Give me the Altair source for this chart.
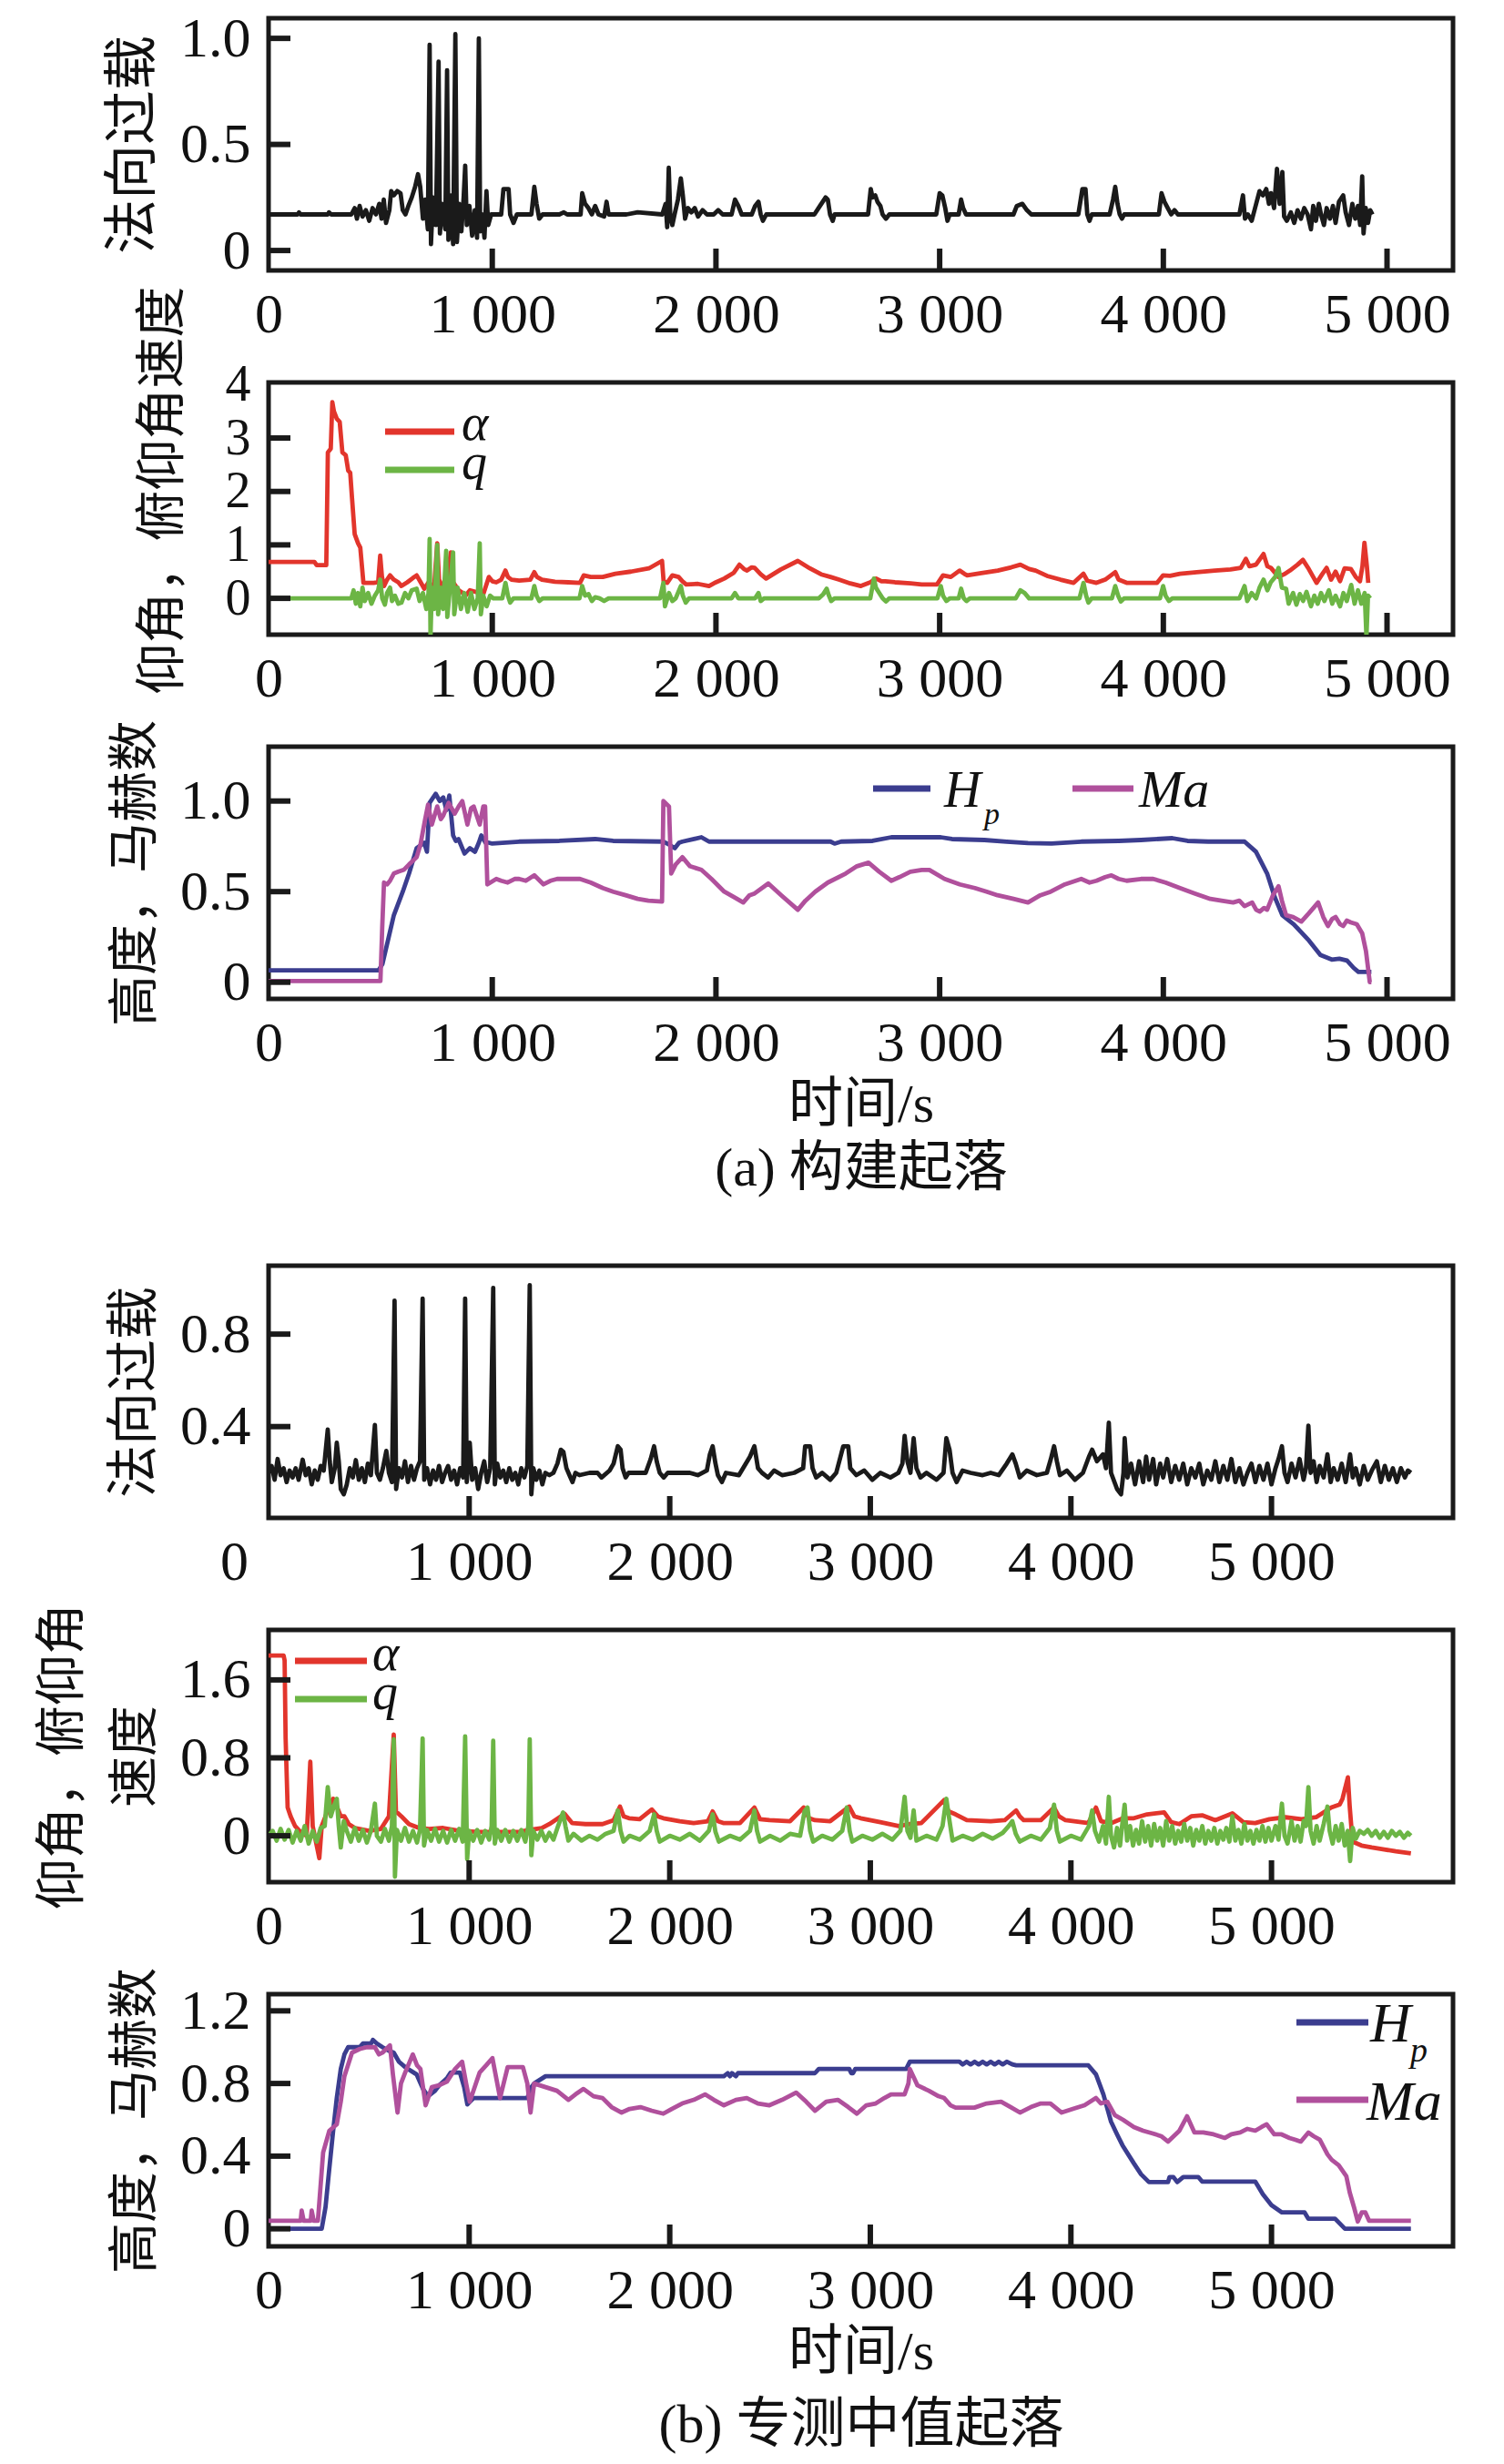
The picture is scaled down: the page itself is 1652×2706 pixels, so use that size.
import altair as alt
import pandas as pd

# ---------------- data (time s, value) ----------------
A1_N = [(0,0.17),(130,0.17),(136,0.18),(142,0.17),(265,0.17),(270,0.18),(280,0.17),(370,0.17),(385,0.20),(395,0.15),(407,0.21),(420,0.16),(435,0.19),(450,0.14),(465,0.20),(480,0.17),(495,0.22),(505,0.15),(515,0.24),(525,0.13),(540,0.19),(548,0.28),(560,0.26),(575,0.28),(590,0.27),(600,0.19),(612,0.17),(625,0.21),(640,0.25),(655,0.30),(668,0.36),(678,0.30),(690,0.15),(700,0.24),(712,0.10),(720,0.97),(726,0.03),(735,0.25),(748,0.12),(760,0.89),(766,0.08),(775,0.22),(790,0.10),(798,0.85),(804,0.05),(815,0.26),(825,0.03),(835,1.02),(842,0.04),(852,0.22),(862,0.09),(872,0.25),(879,0.40),(886,0.12),(898,0.21),(910,0.07),(922,0.19),(932,0.06),(940,1.0),(946,0.09),(955,0.17),(965,0.06),(974,0.28),(982,0.12),(995,0.17),(1040,0.17),(1050,0.29),(1073,0.29),(1080,0.17),(1095,0.13),(1110,0.17),(1175,0.17),(1188,0.30),(1198,0.22),(1210,0.15),(1225,0.17),(1300,0.17),(1320,0.18),(1335,0.17),(1395,0.17),(1402,0.27),(1415,0.22),(1430,0.20),(1445,0.17),(1460,0.21),(1475,0.17),(1500,0.16),(1511,0.23),(1520,0.17),(1560,0.17),(1600,0.17),(1650,0.18),(1760,0.17),(1775,0.22),(1782,0.11),(1789,0.39),(1796,0.16),(1805,0.12),(1815,0.17),(1830,0.24),(1843,0.34),(1852,0.26),(1862,0.15),(1875,0.20),(1890,0.18),(1905,0.20),(1920,0.16),(1940,0.19),(1960,0.17),(1990,0.17),(2010,0.19),(2030,0.17),(2070,0.17),(2085,0.24),(2100,0.21),(2115,0.17),(2160,0.17),(2175,0.21),(2190,0.23),(2200,0.17),(2210,0.14),(2225,0.17),(2440,0.17),(2465,0.21),(2490,0.25),(2500,0.24),(2510,0.17),(2522,0.14),(2530,0.17),(2680,0.17),(2692,0.29),(2700,0.25),(2712,0.26),(2722,0.23),(2735,0.21),(2745,0.17),(2760,0.15),(2775,0.17),(2985,0.17),(3000,0.27),(3012,0.26),(3025,0.20),(3035,0.14),(3045,0.17),(3085,0.17),(3096,0.24),(3105,0.20),(3118,0.17),(3330,0.17),(3345,0.21),(3370,0.22),(3390,0.19),(3410,0.17),(3620,0.17),(3638,0.29),(3652,0.29),(3660,0.17),(3670,0.14),(3680,0.17),(3760,0.17),(3775,0.24),(3785,0.30),(3795,0.22),(3805,0.17),(3815,0.15),(3825,0.17),(3980,0.17),(3992,0.27),(4005,0.23),(4020,0.20),(4035,0.17),(4050,0.19),(4065,0.17),(4340,0.17),(4356,0.26),(4365,0.15),(4378,0.17),(4395,0.14),(4410,0.20),(4430,0.28),(4445,0.26),(4460,0.29),(4472,0.22),(4481,0.27),(4495,0.20),(4508,0.385),(4520,0.22),(4532,0.37),(4540,0.16),(4552,0.14),(4570,0.18),(4585,0.13),(4600,0.19),(4615,0.15),(4630,0.20),(4645,0.17),(4660,0.10),(4670,0.21),(4682,0.14),(4695,0.22),(4705,0.17),(4718,0.12),(4730,0.20),(4745,0.15),(4758,0.21),(4770,0.13),(4785,0.23),(4804,0.26),(4815,0.18),(4830,0.12),(4845,0.22),(4858,0.15),(4870,0.21),(4880,0.12),(4889,0.35),(4895,0.08),(4905,0.20),(4915,0.13),(4925,0.19),(4935,0.17)]

A2_ALPHA = [(0,0.68),(205,0.68),(215,0.62),(258,0.62),(265,2.73),(278,2.8),(285,3.67),(292,3.5),(305,3.36),(318,3.3),(330,2.73),(345,2.68),(356,2.39),(365,2.35),(373,1.88),(385,1.2),(400,1.03),(410,0.95),(424,0.29),(470,0.29),(490,0.3),(499,0.8),(507,0.4),(516,0.23),(530,0.35),(543,0.43),(560,0.35),(580,0.3),(594,0.23),(620,0.3),(645,0.38),(662,0.43),(680,0.3),(696,0.18),(715,0.3),(740,0.2),(754,1.03),(762,0.35),(781,0.18),(800,0.4),(815,0.86),(825,0.3),(850,0.15),(883,0.06),(900,0.15),(960,0.08),(985,0.4),(1000,0.32),(1018,0.3),(1040,0.35),(1059,0.52),(1070,0.4),(1086,0.35),(1120,0.33),(1170,0.35),(1188,0.49),(1200,0.4),(1222,0.35),(1280,0.31),(1340,0.30),(1392,0.29),(1409,0.43),(1440,0.40),(1494,0.40),(1550,0.46),(1620,0.50),(1700,0.56),(1759,0.70),(1766,0.32),(1782,0.29),(1805,0.43),(1833,0.40),(1850,0.32),(1867,0.26),(1920,0.27),(1969,0.23),(2000,0.3),(2037,0.37),(2080,0.48),(2105,0.63),(2125,0.55),(2139,0.52),(2160,0.58),(2173,0.57),(2200,0.45),(2224,0.37),(2290,0.54),(2366,0.70),(2420,0.56),(2470,0.45),(2512,0.40),(2550,0.35),(2600,0.28),(2648,0.23),(2690,0.30),(2716,0.37),(2740,0.32),(2757,0.32),(2800,0.30),(2870,0.28),(2920,0.26),(2988,0.26),(3015,0.43),(3050,0.40),(3089,0.52),(3110,0.46),(3123,0.43),(3180,0.47),(3260,0.52),(3320,0.58),(3361,0.63),(3400,0.55),(3429,0.52),(3480,0.42),(3540,0.35),(3599,0.29),(3643,0.46),(3660,0.33),(3701,0.29),(3740,0.35),(3785,0.49),(3800,0.35),(3836,0.29),(3900,0.29),(3972,0.29),(3999,0.43),(4030,0.42),(4074,0.46),(4150,0.49),(4230,0.52),(4300,0.54),(4346,0.57),(4369,0.74),(4385,0.6),(4414,0.63),(4448,0.83),(4465,0.6),(4481,0.57),(4515,0.40),(4540,0.45),(4566,0.52),(4600,0.63),(4624,0.72),(4650,0.55),(4685,0.29),(4710,0.45),(4730,0.57),(4750,0.35),(4770,0.50),(4790,0.32),(4810,0.56),(4838,0.55),(4860,0.40),(4879,0.32),(4890,0.6),(4899,1.04),(4910,0.6),(4916,0.29)]

A2_Q = [(0,0),(370,0),(380,0.15),(390,-0.1),(400,0.1),(410,-0.15),(420,0.2),(430,-0.05),(445,0.1),(460,-0.1),(475,0.05),(490,0.15),(499,0.35),(508,0.0),(520,-0.12),(530,0.1),(543,0.2),(552,-0.05),(565,0.05),(580,-0.1),(594,-0.08),(610,0.1),(625,0.0),(640,0.15),(662,0.18),(675,-0.05),(690,0.1),(705,-0.2),(715,0.1),(720,1.11),(724,-0.72),(730,0.2),(740,-0.2),(754,1.0),(758,-0.3),(770,0.2),(780,-0.2),(794,0.89),(799,-0.35),(810,0.15),(825,0.86),(830,-0.3),(845,0.2),(860,-0.2),(875,0.1),(890,-0.25),(905,0.1),(920,-0.2),(935,0.0),(944,1.03),(949,-0.3),(960,0.05),(975,-0.15),(990,0.05),(1005,0.0),(1045,0.0),(1059,0.29),(1070,0.05),(1080,-0.08),(1095,0.0),(1175,0.0),(1188,0.23),(1198,0.05),(1210,-0.05),(1225,0.0),(1390,0.0),(1402,0.23),(1415,0.05),(1430,0.08),(1445,-0.05),(1460,0.02),(1480,0.0),(1500,-0.05),(1520,0.0),(1750,0.0),(1765,0.29),(1772,-0.15),(1790,0.1),(1805,-0.05),(1820,0.0),(1843,0.23),(1852,0.05),(1865,-0.08),(1880,0.0),(2070,0.0),(2085,0.1),(2100,0.0),(2175,0.0),(2190,0.1),(2200,-0.05),(2215,0.0),(2460,0.0),(2480,0.08),(2495,0.18),(2505,0.05),(2515,-0.05),(2530,0.0),(2690,0.0),(2706,0.37),(2715,0.2),(2730,0.1),(2745,0.0),(2760,-0.06),(2775,0.0),(2990,0.0),(3005,0.23),(3015,0.05),(3030,-0.05),(3045,0.0),(3085,0.0),(3096,0.18),(3108,0.0),(3120,-0.05),(3135,0.0),(3340,0.0),(3361,0.15),(3380,0.1),(3400,0.0),(3625,0.0),(3643,0.29),(3655,0.05),(3665,-0.08),(3680,0.0),(3770,0.0),(3785,0.23),(3798,0.05),(3810,-0.06),(3825,0.0),(3985,0.0),(3999,0.23),(4010,0.05),(4025,-0.05),(4040,0.0),(4340,0.0),(4363,0.23),(4375,-0.05),(4395,0.1),(4415,0.0),(4430,0.2),(4448,0.35),(4465,0.15),(4480,0.3),(4500,0.4),(4515,0.57),(4530,0.2),(4549,0.18),(4560,-0.1),(4580,0.1),(4595,-0.12),(4610,0.08),(4625,-0.05),(4640,0.12),(4660,-0.15),(4675,0.05),(4690,-0.1),(4705,0.1),(4720,-0.05),(4740,0.15),(4755,-0.1),(4770,0.05),(4790,-0.15),(4805,0.1),(4820,-0.05),(4840,0.25),(4855,-0.1),(4870,0.15),(4885,-0.1),(4900,0.1),(4908,-0.72),(4915,0.05),(4925,0.0)]

A3_HP = [(0,0.066),(492,0.066),(509,0.10),(560,0.37),(600,0.50),(628,0.60),(662,0.74),(696,0.77),(708,0.72),(720,0.99),(747,1.04),(765,1.0),(781,1.02),(795,0.95),(808,1.03),(825,0.81),(837,0.78),(849,0.79),(876,0.71),(900,0.74),(923,0.72),(940,0.77),(951,0.81),(970,0.77),(985,0.77),(1000,0.765),(1120,0.776),(1300,0.78),(1460,0.79),(1540,0.78),(1765,0.776),(1790,0.76),(1816,0.74),(1835,0.77),(1850,0.776),(1935,0.80),(1969,0.776),(2300,0.776),(2512,0.776),(2530,0.765),(2560,0.776),(2700,0.78),(2784,0.80),(2900,0.80),(3005,0.80),(3055,0.79),(3200,0.785),(3300,0.776),(3395,0.768),(3500,0.765),(3633,0.776),(3800,0.78),(3900,0.785),(4040,0.795),(4108,0.78),(4200,0.776),(4363,0.776),(4414,0.72),(4464,0.60),(4498,0.47),(4532,0.37),(4583,0.32),(4651,0.23),(4702,0.15),(4753,0.125),(4787,0.13),(4821,0.12),(4850,0.08),(4872,0.057),(4930,0.057)]

A3_MA = [(0,0.007),(500,0.007),(508,0.3),(516,0.55),(530,0.54),(543,0.56),(560,0.60),(580,0.61),(604,0.62),(628,0.65),(662,0.69),(679,0.76),(700,0.90),(713,0.98),(730,0.87),(754,0.97),(770,0.90),(781,0.92),(805,0.99),(832,0.93),(850,0.97),(866,1.0),(889,0.87),(905,0.96),(917,0.97),(944,0.87),(960,0.97),(968,0.97),(978,0.54),(1018,0.57),(1040,0.56),(1069,0.55),(1100,0.57),(1120,0.57),(1150,0.56),(1188,0.59),(1229,0.54),(1260,0.56),(1290,0.57),(1350,0.57),(1392,0.57),(1440,0.55),(1494,0.52),(1540,0.50),(1596,0.48),(1650,0.46),(1698,0.45),(1759,0.445),(1765,1.0),(1790,0.97),(1800,0.6),(1820,0.65),(1850,0.69),(1884,0.64),(1935,0.62),(1980,0.57),(2037,0.50),(2080,0.47),(2122,0.44),(2150,0.48),(2173,0.49),(2234,0.545),(2292,0.48),(2366,0.40),(2400,0.45),(2444,0.50),(2500,0.55),(2580,0.60),(2630,0.64),(2682,0.66),(2730,0.61),(2784,0.56),(2820,0.58),(2869,0.61),(2920,0.62),(2954,0.62),(3022,0.57),(3090,0.54),(3157,0.52),(3210,0.50),(3259,0.48),(3330,0.46),(3395,0.44),(3450,0.48),(3497,0.50),(3560,0.54),(3633,0.57),(3670,0.55),(3701,0.56),(3740,0.58),(3768,0.59),(3800,0.57),(3836,0.56),(3900,0.57),(3955,0.57),(4010,0.55),(4074,0.52),(4140,0.49),(4210,0.46),(4260,0.45),(4312,0.44),(4340,0.45),(4363,0.42),(4380,0.43),(4397,0.44),(4415,0.40),(4431,0.39),(4450,0.41),(4464,0.40),(4490,0.48),(4515,0.53),(4530,0.45),(4549,0.37),(4580,0.36),(4617,0.335),(4650,0.38),(4692,0.44),(4715,0.36),(4736,0.31),(4755,0.35),(4770,0.36),(4790,0.32),(4804,0.31),(4820,0.34),(4838,0.33),(4865,0.32),(4889,0.27),(4906,0.17),(4923,0.0),(4930,0.0)]

B1_N = [(0,0.2),(15,0.23),(30,0.17),(45,0.26),(60,0.19),(75,0.22),(90,0.16),(105,0.21),(120,0.18),(135,0.22),(150,0.17),(170,0.257),(185,0.19),(200,0.22),(215,0.15),(230,0.21),(245,0.17),(260,0.23),(275,0.21),(295,0.387),(305,0.25),(315,0.16),(330,0.22),(340,0.33),(350,0.25),(360,0.13),(375,0.107),(390,0.15),(405,0.22),(420,0.18),(435,0.255),(450,0.17),(465,0.22),(480,0.16),(495,0.24),(510,0.19),(530,0.407),(540,0.2),(555,0.17),(570,0.22),(587,0.295),(600,0.2),(615,0.16),(628,0.945),(636,0.13),(650,0.22),(665,0.18),(680,0.25),(695,0.16),(710,0.23),(725,0.17),(740,0.22),(755,0.25),(768,0.954),(776,0.17),(790,0.22),(805,0.15),(820,0.21),(835,0.17),(850,0.23),(865,0.16),(880,0.2),(895,0.23),(910,0.17),(925,0.21),(940,0.15),(955,0.22),(970,0.18),(980,0.954),(988,0.16),(1003,0.33),(1015,0.17),(1030,0.22),(1045,0.13),(1060,0.2),(1075,0.25),(1090,0.16),(1105,0.22),(1120,1.0),(1128,0.15),(1140,0.24),(1155,0.18),(1170,0.21),(1185,0.16),(1200,0.22),(1215,0.17),(1230,0.2),(1245,0.15),(1260,0.22),(1275,0.18),(1290,0.23),(1302,1.012),(1310,0.107),(1320,0.22),(1335,0.17),(1350,0.21),(1365,0.15),(1380,0.2),(1400,0.19),(1420,0.2),(1440,0.24),(1457,0.30),(1470,0.29),(1485,0.22),(1500,0.19),(1515,0.16),(1530,0.2),(1550,0.19),(1600,0.2),(1640,0.2),(1660,0.18),(1700,0.21),(1720,0.24),(1741,0.315),(1755,0.3),(1765,0.22),(1780,0.18),(1795,0.2),(1880,0.2),(1905,0.26),(1922,0.315),(1935,0.25),(1950,0.2),(1970,0.18),(1990,0.2),(2100,0.2),(2140,0.19),(2185,0.21),(2200,0.28),(2214,0.315),(2228,0.24),(2240,0.19),(2260,0.16),(2280,0.2),(2345,0.19),(2400,0.27),(2422,0.315),(2440,0.22),(2460,0.2),(2490,0.18),(2520,0.21),(2560,0.19),(2620,0.2),(2665,0.22),(2675,0.315),(2700,0.315),(2712,0.22),(2730,0.18),(2760,0.2),(2800,0.17),(2830,0.2),(2865,0.315),(2890,0.315),(2900,0.22),(2930,0.19),(2970,0.21),(3010,0.17),(3050,0.2),(3100,0.18),(3140,0.2),(3160,0.24),(3171,0.36),(3185,0.25),(3200,0.2),(3216,0.35),(3230,0.22),(3250,0.18),(3280,0.2),(3330,0.17),(3365,0.2),(3379,0.35),(3395,0.3),(3410,0.2),(3430,0.16),(3460,0.21),(3500,0.2),(3560,0.19),(3600,0.2),(3640,0.19),(3680,0.24),(3708,0.28),(3725,0.24),(3745,0.18),(3780,0.21),(3830,0.19),(3880,0.2),(3900,0.26),(3916,0.315),(3930,0.25),(3945,0.19),(3980,0.21),(4020,0.17),(4060,0.2),(4090,0.27),(4106,0.3),(4130,0.25),(4160,0.28),(4175,0.22),(4189,0.417),(4200,0.2),(4230,0.13),(4250,0.107),(4262,0.2),(4268,0.35),(4282,0.18),(4300,0.24),(4320,0.15),(4340,0.25),(4360,0.16),(4375,0.27),(4390,0.17),(4410,0.26),(4425,0.15),(4445,0.24),(4460,0.18),(4480,0.26),(4500,0.16),(4520,0.23),(4540,0.17),(4560,0.24),(4580,0.15),(4600,0.22),(4620,0.18),(4640,0.24),(4660,0.15),(4680,0.21),(4700,0.17),(4720,0.25),(4740,0.16),(4760,0.23),(4780,0.17),(4800,0.26),(4820,0.16),(4840,0.22),(4860,0.15),(4880,0.2),(4900,0.24),(4920,0.16),(4940,0.23),(4960,0.17),(4980,0.24),(5000,0.15),(5020,0.22),(5035,0.26),(5052,0.315),(5065,0.2),(5080,0.16),(5100,0.24),(5120,0.18),(5140,0.26),(5160,0.17),(5172,0.22),(5184,0.404),(5195,0.2),(5210,0.25),(5225,0.16),(5240,0.23),(5260,0.18),(5279,0.28),(5295,0.16),(5310,0.22),(5330,0.17),(5350,0.24),(5370,0.16),(5392,0.28),(5405,0.18),(5420,0.22),(5440,0.15),(5460,0.23),(5480,0.17),(5500,0.21),(5525,0.25),(5545,0.16),(5565,0.23),(5585,0.17),(5605,0.22),(5625,0.16),(5645,0.22),(5665,0.18),(5680,0.21),(5695,0.2)]

B2_ALPHA = [(0,1.85),(75,1.85),(80,1.8),(85,1.0),(95,0.29),(110,0.2),(132,0.1),(150,0.06),(170,0.02),(190,0.0),(208,0.76),(220,0.1),(235,-0.05),(253,-0.23),(265,0.1),(284,0.2),(300,0.3),(322,0.38),(340,0.3),(360,0.2),(378,0.2),(400,0.12),(430,0.08),(454,0.07),(500,0.05),(560,0.07),(600,0.2),(624,1.04),(635,0.25),(662,0.2),(700,0.12),(750,0.08),(800,0.07),(870,0.08),(950,0.05),(1050,0.04),(1135,0.04),(1249,0.04),(1300,0.06),(1362,0.08),(1400,0.12),(1476,0.225),(1514,0.13),(1580,0.12),(1665,0.12),(1720,0.16),(1752,0.30),(1770,0.2),(1797,0.18),(1850,0.17),(1911,0.27),(1940,0.2),(1968,0.18),(2050,0.15),(2119,0.13),(2190,0.15),(2214,0.25),(2240,0.15),(2270,0.13),(2350,0.13),(2422,0.29),(2450,0.17),(2497,0.16),(2600,0.15),(2668,0.29),(2695,0.18),(2724,0.16),(2800,0.15),(2895,0.30),(2920,0.2),(2952,0.18),(3050,0.14),(3141,0.10),(3200,0.12),(3254,0.13),(3368,0.366),(3390,0.25),(3425,0.22),(3481,0.16),(3600,0.15),(3670,0.16),(3727,0.26),(3745,0.2),(3765,0.16),(3850,0.16),(3916,0.29),(3940,0.2),(3973,0.16),(4087,0.13),(4125,0.29),(4150,0.15),(4200,0.13),(4260,0.18),(4314,0.18),(4380,0.22),(4465,0.24),(4500,0.14),(4541,0.12),(4600,0.2),(4654,0.21),(4720,0.16),(4805,0.23),(4860,0.14),(4919,0.13),(4990,0.17),(5070,0.19),(5150,0.17),(5222,0.19),(5298,0.29),(5340,0.32),(5354,0.38),(5381,0.6),(5390,0.3),(5404,-0.06),(5449,-0.1),(5500,-0.12),(5562,-0.14),(5620,-0.16),(5695,-0.18)]

B2_Q = [(0,0.0),(20,0.05),(40,-0.05),(60,0.07),(80,-0.04),(100,0.06),(120,-0.07),(140,0.05),(160,-0.05),(180,0.1),(200,-0.08),(220,0.05),(240,-0.06),(260,0.08),(280,0.1),(295,0.5),(310,0.2),(325,0.3),(340,0.38),(350,0.1),(360,-0.12),(375,0.15),(390,0.05),(410,-0.06),(430,0.08),(450,-0.05),(470,0.06),(490,-0.07),(510,0.05),(530,0.33),(540,0.0),(560,-0.06),(580,0.07),(600,-0.05),(615,0.1),(624,0.99),(630,-0.42),(640,0.06),(660,-0.05),(680,0.08),(700,-0.06),(720,0.05),(740,-0.07),(755,0.06),(768,1.0),(775,-0.1),(790,0.06),(810,-0.05),(830,0.07),(850,-0.06),(870,0.05),(890,-0.07),(910,0.06),(930,-0.05),(950,0.07),(968,-0.06),(980,1.02),(990,-0.24),(1000,0.05),(1020,-0.05),(1040,0.06),(1060,-0.07),(1080,0.05),(1100,-0.04),(1112,0.1),(1120,0.975),(1128,-0.08),(1140,0.06),(1160,-0.05),(1180,0.06),(1200,-0.06),(1220,0.05),(1240,-0.05),(1260,0.06),(1280,-0.06),(1295,0.1),(1302,0.99),(1310,-0.2),(1320,0.05),(1340,-0.04),(1360,0.05),(1380,-0.05),(1400,0.03),(1420,-0.04),(1440,0.08),(1468,0.24),(1480,0.1),(1495,-0.05),(1520,0.02),(1560,-0.05),(1600,0.0),(1640,-0.04),(1680,0.02),(1720,0.05),(1741,0.26),(1755,0.05),(1770,-0.06),(1800,0.0),(1850,-0.04),(1900,0.05),(1922,0.22),(1935,0.05),(1950,-0.06),(2000,0.0),(2050,-0.04),(2100,0.02),(2150,-0.05),(2195,0.05),(2214,0.22),(2228,0.04),(2245,-0.06),(2300,0.0),(2350,-0.04),(2400,0.05),(2422,0.26),(2435,0.05),(2450,-0.06),(2500,0.0),(2550,-0.05),(2600,0.02),(2650,0.0),(2672,0.25),(2687,0.29),(2700,0.05),(2715,-0.06),(2760,0.0),(2810,-0.04),(2860,0.05),(2883,0.29),(2897,0.05),(2910,-0.06),(2960,0.0),(3010,-0.04),(3060,0.02),(3110,-0.04),(3150,0.05),(3171,0.40),(3185,0.05),(3200,-0.02),(3216,0.26),(3230,-0.05),(3280,0.0),(3330,-0.04),(3360,0.1),(3379,0.38),(3395,0.15),(3410,-0.05),(3460,0.0),(3510,-0.04),(3560,0.02),(3610,-0.03),(3660,0.03),(3690,0.1),(3708,0.15),(3725,0.02),(3745,-0.06),(3800,0.0),(3850,-0.04),(3895,0.08),(3916,0.32),(3930,0.05),(3945,-0.06),(4000,0.0),(4050,-0.04),(4090,0.1),(4106,0.26),(4120,0.05),(4140,-0.06),(4160,0.1),(4175,-0.08),(4189,0.40),(4200,0.0),(4215,-0.12),(4230,0.08),(4245,-0.1),(4255,0.1),(4268,0.32),(4280,-0.05),(4295,0.1),(4310,-0.1),(4325,0.06),(4340,-0.08),(4355,0.15),(4370,-0.06),(4385,0.1),(4400,-0.1),(4415,0.12),(4430,-0.05),(4445,0.08),(4460,-0.1),(4475,0.15),(4490,-0.05),(4505,0.1),(4520,-0.08),(4535,0.05),(4550,-0.06),(4565,0.12),(4580,-0.05),(4595,0.08),(4610,-0.1),(4625,0.06),(4640,-0.05),(4655,0.1),(4670,-0.08),(4685,0.05),(4700,-0.05),(4715,0.08),(4730,-0.08),(4745,0.05),(4760,-0.04),(4775,0.08),(4790,-0.06),(4805,0.2),(4820,-0.05),(4835,0.06),(4850,-0.08),(4865,0.12),(4880,-0.05),(4895,0.05),(4910,-0.08),(4925,0.06),(4940,-0.05),(4955,0.1),(4970,-0.06),(4985,0.08),(5000,-0.05),(5020,0.1),(5035,-0.04),(5052,0.33),(5065,0.0),(5080,-0.08),(5100,0.15),(5115,-0.05),(5130,0.1),(5145,-0.06),(5160,0.15),(5172,0.1),(5184,0.50),(5195,0.05),(5210,-0.08),(5225,0.1),(5240,-0.05),(5260,0.12),(5279,0.3),(5290,0.05),(5305,-0.08),(5320,0.1),(5335,-0.05),(5350,0.12),(5365,-0.1),(5380,0.05),(5392,-0.26),(5405,0.08),(5420,-0.03),(5440,0.05),(5460,0.02),(5480,0.06),(5500,0.0),(5520,0.05),(5540,-0.02),(5560,0.04),(5580,-0.02),(5600,0.05),(5620,0.0),(5640,0.04),(5660,-0.02),(5680,0.03),(5695,0.0)]

B3_HP = [(0,0.0),(265,0.0),(284,0.12),(300,0.3),(322,0.54),(340,0.72),(360,0.88),(378,0.96),(397,1.0),(454,1.0),(470,1.02),(511,1.02),(520,1.04),(540,1.02),(568,1.0),(600,0.98),(624,0.97),(650,0.92),(681,0.89),(738,0.85),(770,0.77),(795,0.73),(830,0.76),(851,0.79),(890,0.83),(908,0.86),(954,0.86),(975,0.78),(991,0.685),(1022,0.72),(1290,0.72),(1310,0.78),(1324,0.8),(1381,0.84),(2270,0.84),(2289,0.857),(2300,0.84),(2310,0.857),(2330,0.84),(2340,0.857),(2724,0.857),(2743,0.88),(2895,0.88),(2905,0.857),(2914,0.857),(2925,0.88),(3179,0.88),(3197,0.92),(3444,0.92),(3460,0.905),(3480,0.92),(3500,0.905),(3520,0.92),(3540,0.905),(3560,0.92),(3580,0.905),(3600,0.92),(3620,0.905),(3640,0.92),(3660,0.905),(3680,0.92),(3708,0.905),(3727,0.9),(4087,0.9),(4125,0.85),(4162,0.74),(4200,0.59),(4230,0.52),(4257,0.46),(4314,0.36),(4350,0.3),(4389,0.257),(4484,0.257),(4492,0.285),(4511,0.285),(4530,0.257),(4560,0.285),(4635,0.285),(4654,0.26),(4919,0.26),(4957,0.19),(5000,0.13),(5052,0.09),(5165,0.09),(5184,0.055),(5317,0.055),(5366,0.0),(5695,0.0)]

B3_MA = [(0,0.044),(160,0.044),(165,0.1),(175,0.044),(210,0.044),(215,0.1),(225,0.044),(246,0.044),(272,0.42),(303,0.54),(340,0.575),(360,0.7),(378,0.84),(416,0.97),(454,0.99),(490,1.0),(530,1.0),(550,0.96),(568,0.97),(605,1.01),(620,0.85),(643,0.64),(660,0.8),(681,0.86),(719,0.96),(740,0.9),(757,0.88),(783,0.68),(814,0.78),(850,0.79),(889,0.81),(930,0.88),(965,0.92),(985,0.8),(1003,0.70),(1052,0.86),(1085,0.9),(1116,0.94),(1154,0.72),(1192,0.89),(1268,0.89),(1290,0.8),(1306,0.64),(1324,0.8),(1381,0.78),(1438,0.76),(1495,0.71),(1530,0.74),(1570,0.77),(1620,0.73),(1665,0.72),(1710,0.67),(1760,0.64),(1800,0.66),(1854,0.67),(1910,0.65),(1968,0.634),(2010,0.66),(2062,0.69),(2120,0.71),(2176,0.74),(2220,0.71),(2270,0.68),(2330,0.71),(2384,0.72),(2440,0.69),(2497,0.68),(2560,0.71),(2630,0.75),(2680,0.7),(2724,0.65),(2780,0.7),(2838,0.71),(2890,0.67),(2933,0.634),(2980,0.68),(3027,0.69),(3070,0.72),(3103,0.74),(3171,0.74),(3190,0.8),(3197,0.88),(3235,0.79),(3292,0.76),(3340,0.73),(3368,0.72),(3400,0.68),(3425,0.667),(3519,0.667),(3580,0.69),(3652,0.70),(3700,0.67),(3746,0.64),(3800,0.67),(3850,0.69),(3898,0.69),(3954,0.64),(4010,0.66),(4068,0.68),(4125,0.72),(4150,0.69),(4181,0.70),(4219,0.626),(4260,0.6),(4314,0.56),(4360,0.54),(4408,0.525),(4450,0.51),(4484,0.48),(4541,0.54),(4579,0.62),(4616,0.53),(4660,0.53),(4711,0.52),(4768,0.50),(4800,0.52),(4844,0.53),(4880,0.55),(4919,0.54),(4950,0.56),(4976,0.575),(5014,0.52),(5050,0.52),(5090,0.50),(5120,0.49),(5146,0.48),(5184,0.53),(5210,0.51),(5241,0.49),(5279,0.41),(5300,0.38),(5335,0.35),(5373,0.29),(5390,0.2),(5411,0.12),(5430,0.04),(5450,0.09),(5468,0.09),(5487,0.044),(5695,0.044)]

X_TICKS = [1000, 2000, 3000, 4000, 5000]
X_LABELS = [0, 1000, 2000, 3000, 4000, 5000]

# ---------------- style ----------------
W, H = 1301, 277
INK = "#1a1a1a"
RED, GREEN, BLUE, MAGENTA = "#e2352c", "#6cb545", "#3b3d8f", "#b0509c"
SERIF = "Liberation Serif"
MIXED = "Liberation Serif, Noto Sans CJK SC"
TICK_LEN = 24
LW = 4.8
ONE = pd.DataFrame({"k": [0]})


def key_line(color, x0, x1, y):
    return alt.Chart(ONE).mark_rule(color=color, strokeWidth=7).encode(
        x=alt.value(x0), x2=alt.value(x1), y=alt.value(y))


def key_text(text, x, y, size):
    return alt.Chart(ONE).mark_text(
        text=text, font=SERIF, fontStyle="italic", fontSize=size,
        align="left", baseline="alphabetic", color="#111"
    ).encode(x=alt.value(x), y=alt.value(y))


def frame(series, colors, xmax, ydom, ylabels, yticks, yfmt, ytitle,
          keys=(), xtitle=None, title_lh=70, ytitle_size=57, ytitle_y=None,
          ylabel_size=62, ytitle_pad=20, zero_shift=0):
    df = pd.concat([pd.DataFrame({"t": [p[0] for p in pts],
                                  "v": [p[1] for p in pts],
                                  "s": n}) for n, pts in series],
                   ignore_index=True)
    df["o"] = df.groupby("s").cumcount()
    xaxis_kw = dict(values=X_LABELS,
                    labelExpr="datum.value == 0 ? '0' : format(datum.value/1000, 'd') + ' 000'",
                    labelPadding=18, title=xtitle)
    if zero_shift:
        xaxis_kw["labelOffset"] = {"condition": {"test": "datum.value == 0", "value": zero_shift},
                                   "value": 0}
    if xtitle is not None:
        xaxis_kw.update(titlePadding=8, titleLineHeight=title_lh,
                        titleFont=MIXED, titleFontSize=60, titleFontWeight="normal")
    yaxis_kw = dict(values=ylabels, labelExpr=yfmt, labelPadding=20,
                    labelFontSize=ylabel_size,
                    title=ytitle, titlePadding=ytitle_pad, titleFont=MIXED,
                    titleFontSize=ytitle_size, titleFontWeight="normal",
                    titleLineHeight=80)
    if ytitle_y is not None:
        yaxis_kw["titleY"] = ytitle_y
    x = alt.X("t:Q", scale=alt.Scale(domain=[0, xmax], nice=False, zero=False),
              axis=alt.Axis(**xaxis_kw))
    y = alt.Y("v:Q", scale=alt.Scale(domain=ydom, nice=False, zero=False),
              axis=alt.Axis(**yaxis_kw))
    layers = []
    for (name, _), c in zip(series, colors):
        layers.append(alt.Chart(df).transform_filter(alt.datum.s == name).mark_line(
            strokeWidth=LW, clip=True, strokeJoin="round", color=c
        ).encode(x=x, y=y, order="o:Q"))
    xt = alt.Chart(pd.DataFrame({"t": X_TICKS})).mark_rule(
        color=INK, strokeWidth=6).encode(x=x, y=alt.value(H), y2=alt.value(H - TICK_LEN))
    yt = alt.Chart(pd.DataFrame({"v": yticks})).mark_rule(
        color=INK, strokeWidth=6).encode(y=y, x=alt.value(0), x2=alt.value(TICK_LEN))
    return alt.layer(*layers, xt, yt, *keys).properties(width=W, height=H)


fmt1 = "datum.value == 0 ? '0' : format(datum.value, '.1f')"
fmt0 = "format(datum.value, 'd')"
XA, XB = 5295, 5905

a1 = frame([("n", A1_N)], [INK], XA, [-0.094, 1.095], [0, 0.5, 1.0], [0, 0.5, 1.0],
           fmt1, "法向过载", ytitle_size=60)
a2 = frame([("α", A2_ALPHA), ("q", A2_Q)], [RED, GREEN], XA, [-0.68, 4.04],
           [0, 1, 2, 3, 4], [0, 1, 2, 3], fmt0, "仰角，俯仰角速度",
           keys=[key_line(RED, 128, 204, 54), key_text("α", 212, 63, 56),
                 key_line(GREEN, 128, 204, 96), key_text("q", 212, 106, 56)],
           ytitle_size=56, ytitle_y=118, ylabel_size=56, ytitle_pad=40)
a3 = frame([("Hp", A3_HP), ("Ma", A3_MA)], [BLUE, MAGENTA], XA, [-0.092, 1.30],
           [0, 0.5, 1.0], [0, 0.5, 1.0], fmt1, "高度，马赫数",
           keys=[key_line(BLUE, 664, 727, 46), key_text("H", 742, 66, 56),
                 key_text("p", 786, 85, 34),
                 key_line(MAGENTA, 883, 950, 46), key_text("Ma", 956, 66, 58)],
           xtitle=["时间/s", "(a) 构建起落"], title_lh=70, ytitle_size=56)
spacer = alt.Chart(pd.DataFrame({"t": [0]})).mark_point(opacity=0).encode(
    x=alt.X("t:Q", axis=None), y=alt.Y("t:Q", axis=None)
).properties(width=W, height=47, view=alt.ViewBackground(stroke="transparent"))
b1 = frame([("n", B1_N)], [INK], XB, [0.005, 1.096], [0.4, 0.8], [0.4, 0.8],
           fmt1, "法向过载", ytitle_size=58, zero_shift=-38)
b2 = frame([("α", B2_ALPHA), ("q", B2_Q)], [RED, GREEN], XB, [-0.476, 2.113],
           [0, 0.8, 1.6], [0, 0.8, 1.6], fmt1, ["仰角，俯仰角", "速度"],
           keys=[key_line(RED, 29, 108, 34), key_text("α", 114, 44, 56),
                 key_line(GREEN, 29, 108, 76), key_text("q", 114, 87, 56)],
           ytitle_size=56)
b3 = frame([("Hp", B3_HP), ("Ma", B3_MA)], [BLUE, MAGENTA], XB, [-0.097, 1.292],
           [0, 0.4, 0.8, 1.2], [0, 0.4, 0.8, 1.2], fmt1, "高度，马赫数",
           keys=[key_line(BLUE, 1129, 1208, 31), key_text("H", 1210, 52, 62),
                 key_text("p", 1254, 74, 38),
                 key_line(MAGENTA, 1129, 1208, 116), key_text("Ma", 1206, 138, 62)],
           xtitle=["时间/s", "(b) 专测中值起落"], title_lh=80, ytitle_size=56)

chart = alt.vconcat(a1, a2, a3, spacer, b1, b2, b3, spacing=123, bounds="flush").resolve_scale(
    x="independent", y="independent"
).properties(
    padding={"left": 30, "top": 0, "right": 5, "bottom": 5}, background="white"
).configure_view(
    stroke=INK, strokeWidth=5
).configure_axis(
    domain=False, ticks=False, grid=False,
    labelFont=SERIF, labelFontSize=62, labelColor="#111",
    titleColor="#111", labelOverlap=False, labelBound=False, labelFlush=False
)

chart.save("out.html", embed_options={"renderer": "svg", "actions": False})
